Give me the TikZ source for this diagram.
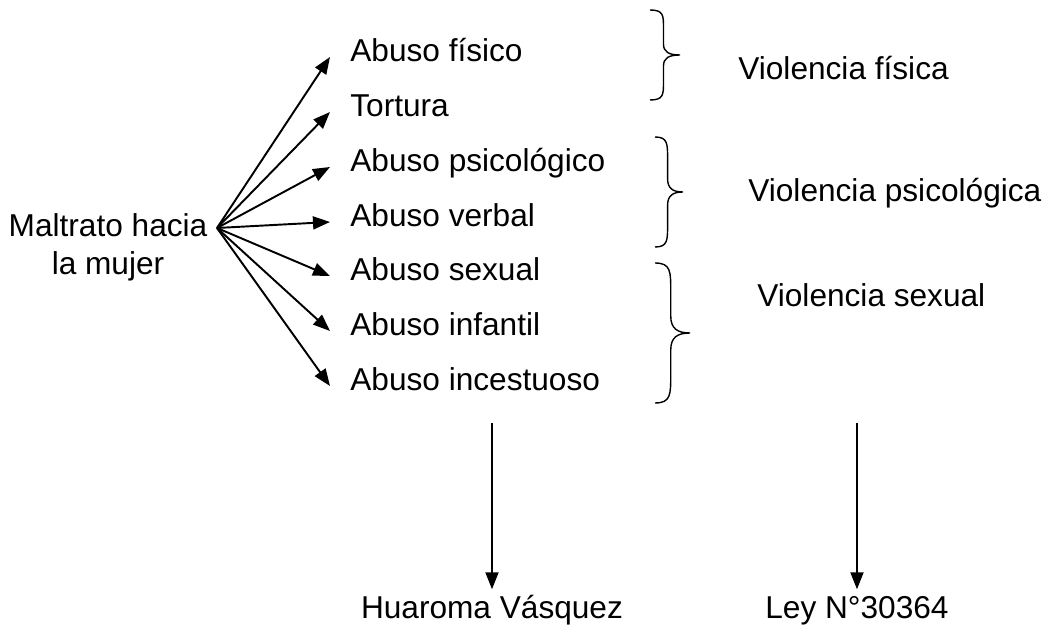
\documentclass[tikz,border=0pt]{standalone}
\usepackage{fontspec}
\setmainfont{Liberation Sans}
\usetikzlibrary{arrows.meta}

\tikzset{
  base/.style={align=center,inner sep=0pt,font=\fontsize{18}{21.6}\selectfont},
  txt/.style={base,text height=0.75em,text depth=0.2em},
  item/.style={txt,anchor=west,inner xsep=0.4cm},
  flecha/.style={-{Triangle[length=3.4mm,width=2.6mm]},draw=black,line width=1.1pt},
  wbrace/.pic={\draw[line width=0.8pt] (0,0) .. controls (0.45,0) and (0.45,0.06) .. (0.45,0.2) -- (0.45,0.38) .. controls (0.45,0.47) and (0.65,0.5) .. (1,0.5) .. controls (0.65,0.5) and (0.45,0.53) .. (0.45,0.62) -- (0.45,0.8) .. controls (0.45,0.94) and (0.45,1) .. (0,1);}
}

\begin{document}
\begin{tikzpicture}[x=0.02cm,y=-0.02cm]
\useasboundingbox (0,0) rectangle (1049,641);

\node[base] (0) at (108,247) {Maltrato hacia\\la mujer};
\coordinate (fan) at (217,228);

\node[item] (1) at (330,57) {Abuso físico};
\node[item] (2) at (330,112) {Tortura};
\node[item] (3) at (330,167) {Abuso psicológico};
\node[item] (4) at (330,222) {Abuso verbal};
\node[item] (5) at (330,276) {Abuso sexual};
\node[item] (6) at (330,331) {Abuso infantil};
\node[item] (7) at (330,386) {Abuso incestuoso};

\foreach \n in {1,...,7}
  \draw [flecha] (fan) -- (\n.west);

\pic[xscale=30,yscale=90] at (650,10) {wbrace};
\pic[xscale=28,yscale=110] at (655,137) {wbrace};
\pic[xscale=35,yscale=140] at (655,263) {wbrace};

\node[txt,anchor=west] (8) at (738,75) {Violencia física};
\node[txt,anchor=west] (9) at (748,197) {Violencia psicológica};
\node[txt,anchor=west] (10) at (757,302) {Violencia sexual};

\node[txt] (11) at (492,614) {Huaroma Vásquez};
\node[txt] (12) at (857,614) {Ley N°30364};
\coordinate (c11) at (492,423);
\coordinate (c12) at (857,423);

\draw [flecha,shorten >=0.32cm] (c11) -- (11.north);
\draw [flecha,shorten >=0.32cm] (c12) -- (12.north);
\end{tikzpicture}
\end{document}
